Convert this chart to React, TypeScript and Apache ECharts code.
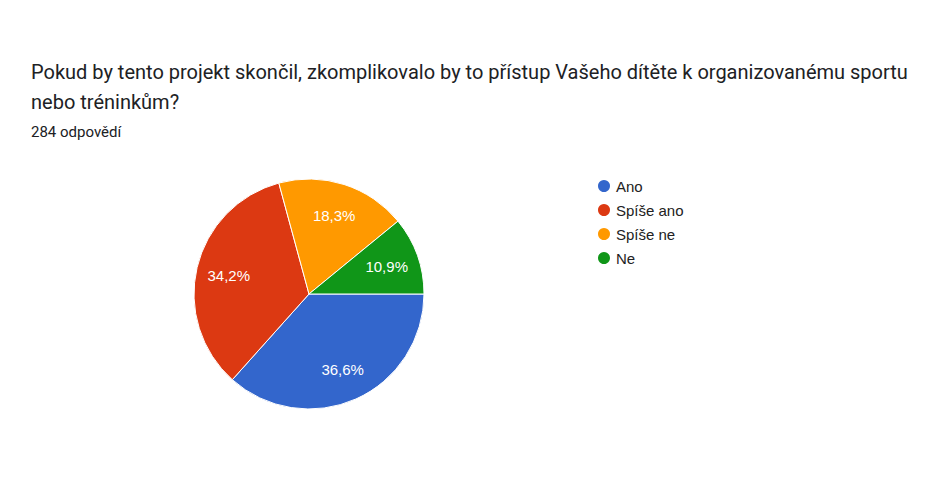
import React, { useEffect, useRef } from "react";
import * as echarts from "echarts";

const titleLines = [
  "Pokud by tento projekt skončil, zkomplikovalo by to přístup Vašeho dítěte k organizovanému sportu",
  "nebo tréninkům?",
];
const subtitle = "284 odpovědí";
const categories = ["Ano", "Spíše ano", "Spíše ne", "Ne"];
const counts = [104, 97, 52, 31];
const colors = ["#3366cc", "#dc3912", "#ff9900", "#109618"];

export default function App() {
  const ref = useRef<HTMLDivElement>(null);
  useEffect(() => {
    document.body.style.margin = "0";
    const chart = echarts.init(ref.current!, null, { renderer: "svg" });
    const total = counts.reduce((a, b) => a + b, 0);
    const data = categories.map((name, i) => ({
      name,
      value: counts[i],
      itemStyle: { color: colors[i] },
    }));
    const fmt = (p: any) =>
      ((p.value / total) * 100).toFixed(1).replace(".", ",") + "%";
    const sans = "Arial, 'Liberation Sans', sans-serif";
    chart.setOption({
      animation: false,
      backgroundColor: "#ffffff",
      textStyle: { fontFamily: sans },
      title: [
        {
          text: titleLines.join("\n"),
          left: 26,
          top: 52,
          textStyle: {
            fontFamily: "Roboto",
            fontSize: 20,
            fontWeight: "normal",
            color: "#202124",
            lineHeight: 30,
          },
        },
        {
          text: subtitle,
          left: 26,
          top: 119,
          textStyle: {
            fontFamily: "Roboto",
            fontSize: 15,
            fontWeight: "normal",
            color: "#202124",
          },
        },
      ],
      legend: {
        orient: "vertical",
        left: 591,
        top: 173,
        icon: "circle",
        itemWidth: 14,
        itemHeight: 14,
        itemGap: 8,
        data: categories,
        textStyle: { fontFamily: sans, fontSize: 15, color: "#222222", lineHeight: 14 },
      },
      series: [
        {
          type: "pie",
          center: [309, 294],
          radius: [0, 115],
          startAngle: 0,
          clockwise: true,
          data,
          itemStyle: { borderColor: "#ffffff", borderWidth: 1 },
          label: { show: false },
          labelLine: { show: false },
          silent: true,
        },
        {
          type: "pie",
          center: [309, 294],
          radius: [44, 115],
          startAngle: 0,
          clockwise: true,
          data: categories.map((name, i) => ({ name, value: counts[i] })),
          itemStyle: { color: "rgba(0,0,0,0)" },
          label: {
            show: true,
            position: "inside",
            formatter: fmt,
            color: "#ffffff",
            fontFamily: sans,
            fontSize: 15,
          },
          labelLine: { show: false },
          silent: true,
          legendHoverLink: false,
        },
      ],
    });
    return () => chart.dispose();
  }, []);
  return <div ref={ref} style={{ width: 940, height: 480 }} />;
}
